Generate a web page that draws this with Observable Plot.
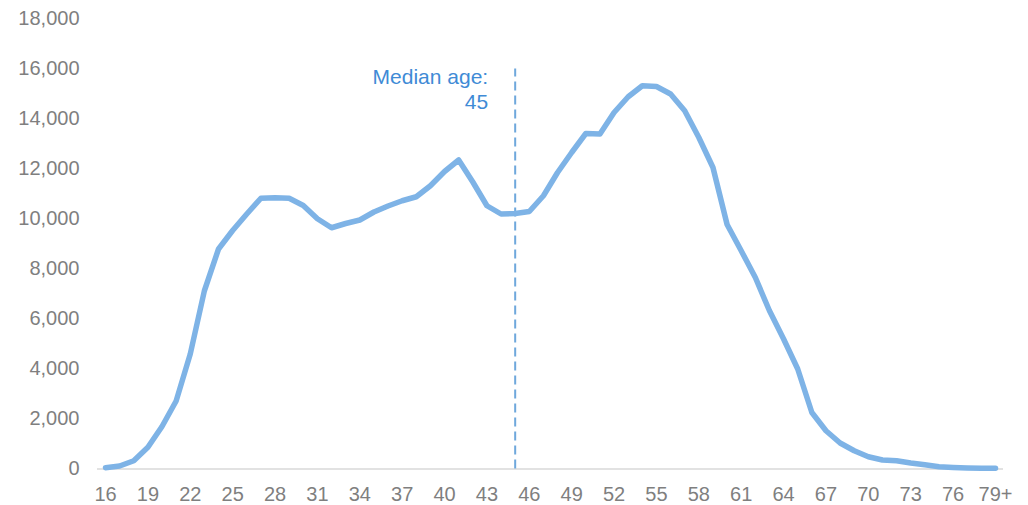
<!DOCTYPE html>
<html>
<head>
<meta charset="utf-8">
<script src="https://cdn.jsdelivr.net/npm/d3@7"></script>
<script src="https://cdn.jsdelivr.net/npm/@observablehq/plot@0.6"></script>
<style>
  html, body { margin: 0; padding: 0; background: #ffffff; }
  #chart svg { display: block; }
</style>
</head>
<body>
<div id="chart"></div>
<script>
// Age bands (single years, last band open-ended)
const ages = [
  "16","17","18","19","20","21","22","23","24","25","26","27","28","29","30",
  "31","32","33","34","35","36","37","38","39","40","41","42","43","44","45",
  "46","47","48","49","50","51","52","53","54","55","56","57","58","59","60",
  "61","62","63","64","65","66","67","68","69","70","71","72","73","74","75",
  "76","77","78","79+"
];

// Headcount at each age
const counts = [
  50, 120, 330, 870, 1700, 2720, 4600, 7130, 8800, 9540, 10200, 10830, 10850, 10830, 10540,
  10010, 9650, 9820, 9960, 10280, 10520, 10730, 10890, 11330, 11900, 12360, 11480, 10530, 10200, 10220,
  10300, 10930, 11860, 12660, 13420, 13400, 14260, 14890, 15330, 15300, 15000, 14330, 13260, 12060, 9780,
  8730, 7660, 6330, 5200, 4000, 2260, 1530, 1040, 730, 490, 360, 330, 240, 170, 90,
  60, 40, 30, 30
];

const yTicks = [0, 2000, 4000, 6000, 8000, 10000, 12000, 14000, 16000, 18000];
const xTicks = ages.filter((d, i) => i % 3 === 0);

const medianAge = "45";
const medianTop = 16000;
const medianLabel = "Median age:\n" + medianAge;

const data = ages.map((age, i) => ({age, count: counts[i]}));

const chart = Plot.plot({
  width: 1028,
  height: 505,
  marginLeft: 97,
  marginRight: 25,
  marginTop: 18.5,
  marginBottom: 36.5,
  style: {
    fontFamily: "'Liberation Sans', Arial, sans-serif",
    fontSize: "20px",
    color: "#7f7f7f",
    background: "#ffffff"
  },
  x: {
    type: "point",
    domain: ages,
    padding: 0,
    round: false,
    inset: 8,
    label: null,
    ticks: xTicks,
    tickSize: 0,
    tickPadding: 18
  },
  y: {
    domain: [0, 18000],
    ticks: yTicks,
    tickFormat: d3.format(","),
    label: null,
    tickSize: 0,
    tickPadding: 18
  },
  marks: [
    Plot.ruleY([0], {stroke: "#d9d9d9", strokeWidth: 1.5}),
    Plot.ruleX([medianAge], {y1: 0, y2: medianTop, stroke: "#6fa8dc", strokeWidth: 2, strokeDasharray: "9,5"}),
    Plot.line(data, {x: "age", y: "count", stroke: "#7eb3e6", strokeWidth: 5.5, strokeLinecap: "round"}),
    Plot.text([medianLabel], {
      x: () => medianAge,
      y: () => medianTop,
      text: d => d,
      textAnchor: "end",
      lineAnchor: "top",
      lineHeight: 1.2,
      dx: -27,
      dy: -3,
      fill: "#3f8bd6",
      fontSize: 21
    })
  ]
});

document.getElementById("chart").appendChild(chart);
</script>
</body>
</html>
